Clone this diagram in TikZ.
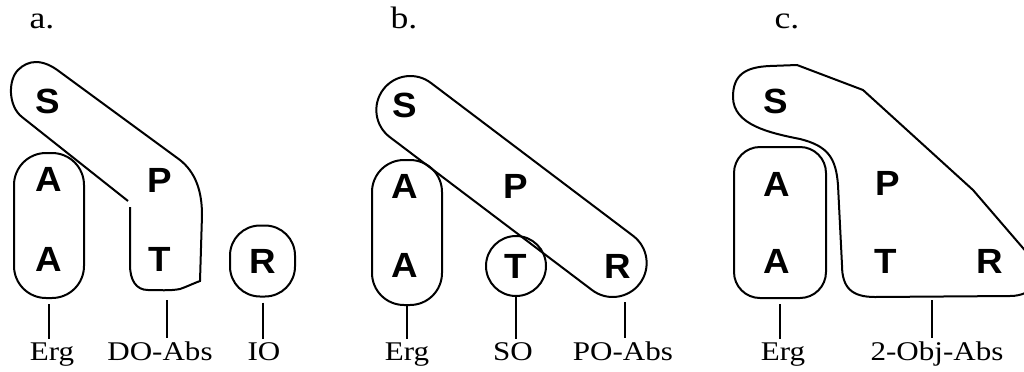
\documentclass[tikz,border=0pt]{standalone}
\usepackage{fontspec}
\setmainfont{Liberation Serif}[FakeStretch=1.15]
\newfontfamily\rolefont{Liberation Sans}[FakeStretch=1.05]
\usetikzlibrary{shapes.misc}

\begin{document}
\begin{tikzpicture}[
        x=0.5pt, y=-0.5pt,
        line width=1pt,
        role/.style={inner sep=0pt, font=\rolefont\bfseries\fontsize{17.5}{18}\selectfont},
        casebox/.style={draw, rounded corners=16pt, minimum width=35pt, minimum height=72.5pt},
        casetag/.style={inner sep=1pt, anchor=base, font=\fontsize{13.5}{15}\selectfont},
        panel/.style={anchor=base, font=\fontsize{15.5}{17}\selectfont},
        gap/.style={shorten <=2.5pt}
        ]
        \useasboundingbox (0,0) rectangle (1024,371);

        % a.
        \node[panel] (aLbl) at (42,28) {a.};
        \node[role] (aS) at (48,101) {S};
        \node[role] (aA1) at (49,179) {A};
        \node[role] (aA2) at (49,259) {A};
        \node[role] (aP) at (160,180) {P};
        \node[role] (aT) at (160,259) {T};
        \node[role, draw, rounded corners=15pt, minimum width=32.5pt, minimum height=35.5pt] (aR) at (262.5,261) {R};
        \node[casebox] (aAbox) at (49,225.5) {};
        \draw (128,201) -- (22,117) .. controls (8,106) and (8,80) .. (18,70)
            .. controls (28,60) and (42,58) .. (60,72) -- (180,160)
            .. controls (195,172) and (202,190) .. (202,215) -- (200,281)
            .. controls (192,284) and (186,287) .. (180,289)
            .. controls (170,291) and (158,290) .. (148,290)
            .. controls (136,290) and (130,280) .. (130,265) -- (130,207);
        \coordinate (aPTend) at (167,300);
        \node[casetag] (aErg) at (52,360) {Erg};
        \node[casetag] (aDO) at (160,360) {DO-Abs};
        \node[casetag] (aIO) at (264,360) {IO};
        \draw[gap] (aAbox.south) -- (aAbox.south |- aErg.north);
        \draw (aPTend) -- (aPTend |- aDO.north);
        \draw[gap] (aR.south) -- (aR.south |- aIO.north);

        % b.
        \node[panel] (bLbl) at (404,28) {b.};
        \node[role] (bS) at (405,105) {S};
        \node[role] (bA1) at (405,186) {A};
        \node[role] (bA2) at (405,265) {A};
        \node[role] (bP) at (516,186) {P};
        \node[role, draw, circle, minimum size=30pt] (bT) at (516,266) {T};
        \node[role] (bR) at (618,266) {R};
        \node[casebox] (bAbox) at (407,232.5) {};
        \node[draw, rounded rectangle, minimum width=167.5pt, minimum height=34pt, rotate=-37.1] (bSR) at (511.5,186.5) {};
        \coordinate (bSRend) at (625,302);
        \node[casetag] (bErg) at (407,360) {Erg};
        \node[casetag] (bSO) at (513,360) {SO};
        \node[casetag] (bPO) at (623,360) {PO-Abs};
        \draw (bAbox.south) -- (bAbox.south |- bErg.north);
        \draw (bT.south) -- (bT.south |- bSO.north);
        \draw (bSRend) -- (bSRend |- bPO.north);

        % c.
        \node[panel] (cLbl) at (787,28) {c.};
        \node[role] (cS) at (776,101) {S};
        \node[role] (cA1) at (777,184) {A};
        \node[role] (cA2) at (777,261) {A};
        \node[role] (cP) at (888,183) {P};
        \node[role] (cT) at (886,261) {T};
        \node[role] (cR) at (990,261) {R};
        \node[casebox, rounded corners=13pt, minimum width=46pt, minimum height=75.5pt] (cAbox) at (780,222.5) {};
        \draw (797,65) -- (863,90) -- (973,190) -- (1035,262)
            .. controls (1045,276) and (1035,296) .. (1010,296) -- (875,297)
            .. controls (852,297) and (842,288) .. (842,265) -- (838,185)
            .. controls (836,158) and (828,146) .. (800,139)
            .. controls (770,133) and (733,125) .. (733,97)
            .. controls (733,75) and (745,67) .. (770,66) -- cycle;
        \coordinate (cPTRend) at (932,300);
        \node[casetag] (cErg) at (783,360) {Erg};
        \node[casetag] (cObj) at (937,360) {2-Obj-Abs};
        \draw[gap] (cAbox.south) -- (cAbox.south |- cErg.north);
        \draw (cPTRend) -- (cPTRend |- cObj.north);
\end{tikzpicture}
\end{document}
